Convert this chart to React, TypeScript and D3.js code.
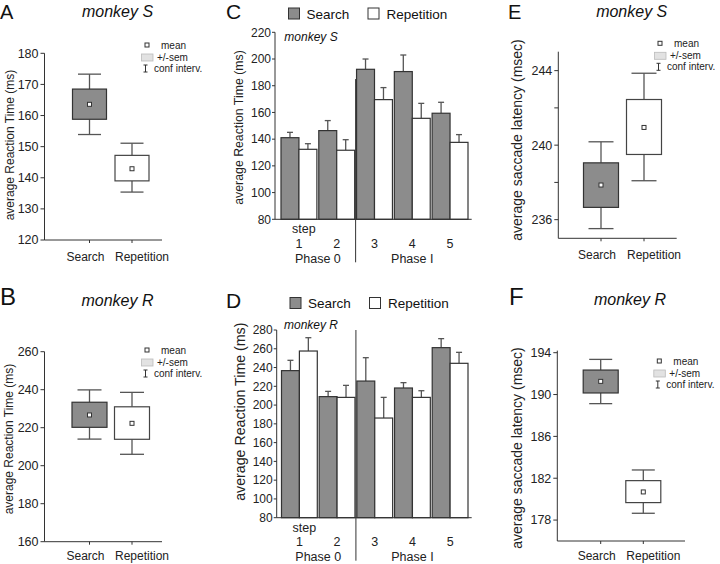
import React from 'react';
import * as d3 from 'd3';

// ---------- shared ----------
const categories = ['Search', 'Repetition'];
const steps = ['1', '2', '3', '4', '5'];
const phases = ['Phase 0', 'Phase I'];
const phaseSteps = [['1', '2'], ['3', '4', '5']];

// ---------- Panel A: monkey S, reaction time ----------
const rtS_mean = [163.6, 142.9];
const rtS_semLo = [158.8, 139.0];
const rtS_semHi = [168.5, 147.2];
const rtS_ciLo = [153.9, 135.4];
const rtS_ciHi = [173.3, 151.1];
const rtS_ticks = [120, 130, 140, 150, 160, 170, 180];

// ---------- Panel B: monkey R, reaction time ----------
const rtR_mean = [226.7, 222.3];
const rtR_semLo = [220.2, 213.9];
const rtR_semHi = [233.4, 231.0];
const rtR_ciLo = [214.0, 206.0];
const rtR_ciHi = [239.9, 238.6];
const rtR_ticks = [160, 180, 200, 220, 240, 260];

// ---------- Panel E: monkey S, saccade latency ----------
const latS_mean = [237.86, 240.95];
const latS_semLo = [236.66, 239.5];
const latS_semHi = [239.05, 242.45];
const latS_ciLo = [235.52, 238.09];
const latS_ciHi = [240.18, 243.86];
const latS_ticks = [236, 240, 244];
const latS_minor = [238, 242];

// ---------- Panel F: monkey R, saccade latency ----------
const latR_mean = [191.26, 180.69];
const latR_semLo = [190.15, 179.67];
const latR_semHi = [192.34, 181.77];
const latR_ciLo = [189.13, 178.65];
const latR_ciHi = [193.36, 182.79];
const latR_ticks = [178, 182, 186, 190, 194];

// ---------- Panel C: monkey S, per step ----------
const stepS_search = [141.1, 146.4, 192.3, 190.6, 159.4];
const stepS_searchErr = [4.0, 7.5, 7.7, 12.4, 8.2];
const stepS_rep = [132.4, 131.7, 169.6, 155.6, 137.6];
const stepS_repErr = [4.2, 7.9, 9.0, 11.2, 5.8];
const stepS_ticks = [80, 100, 120, 140, 160, 180, 200, 220];

// ---------- Panel D: monkey R, per step ----------
const stepR_search = [236.7, 209.0, 225.6, 218.2, 261.2];
const stepR_searchErr = [11.0, 5.6, 24.9, 5.7, 9.6];
const stepR_rep = [257.6, 208.2, 186.2, 208.2, 244.5];
const stepR_repErr = [14.2, 12.8, 22.0, 7.1, 11.7];
const stepR_ticks = [80, 100, 120, 140, 160, 180, 200, 220, 240, 260, 280];

const FONT = '"Liberation Sans", Arial, Helvetica, sans-serif';
const AXIS = '#333';
const SEARCH_FILL = '#8c8c8c';
const DARK = '#333';
const WHISK = '#555';

function Legend({ lx, ly }) {
  return (
    <g fontSize={10} fill="#222">
      <rect x={lx - 2} y={ly - 2} width={4} height={4} fill="#fff" stroke={DARK} strokeWidth={1} />
      <text x={lx + 14} y={ly + 3.5}>mean</text>
      <rect x={lx - 5.5} y={ly + 9} width={11.5} height={7} fill="#e2e2e2" stroke="#bbb" strokeWidth={0.8} />
      <text x={lx + 10} y={ly + 15.5}>+/-sem</text>
      <g stroke={DARK} strokeWidth={1}>
        <line x1={lx - 1.5} x2={lx - 1.5} y1={ly + 20} y2={ly + 27} />
        <line x1={lx - 3.5} x2={lx + 0.5} y1={ly + 20} y2={ly + 20} />
        <line x1={lx - 3.5} x2={lx + 0.5} y1={ly + 27} y2={ly + 27} />
      </g>
      <text x={lx + 7} y={ly + 27}>conf interv.</text>
    </g>
  );
}

function BoxPanel({ c }) {
  const y = d3.scaleLinear().domain(c.domain).range([c.yBottom, c.yTop]);
  const x = d3.scalePoint().domain(categories).range(c.catRange);
  return (
    <g fontFamily={FONT}>
      <text x={c.letterX} y={c.letterY} fontSize={c.letterSize} fill="#111">{c.letter}</text>
      <text x={c.titleX} y={c.titleY} fontSize={16} fontStyle="italic" textAnchor="middle" fill="#111">{c.title}</text>
      <text
        transform={`translate(${c.ylabX},${c.ylabY}) rotate(-90)`}
        textAnchor="middle" dy="0.35em" fontSize={c.ylabSize} fill="#222"
      >{c.ylabel}</text>
      {/* axes */}
      <line x1={c.axisX} x2={c.axisX} y1={c.axisTop} y2={c.yBottom} stroke={AXIS} strokeWidth={1} />
      <line x1={c.axisX} x2={c.xEnd} y1={c.yBottom} y2={c.yBottom} stroke={AXIS} strokeWidth={1} />
      {c.ticks.map((t) => (
        <g key={t}>
          <line x1={c.axisX - 4} x2={c.axisX} y1={y(t)} y2={y(t)} stroke={AXIS} />
          <text x={c.axisX - 6} y={y(t)} dy="0.35em" textAnchor="end" fontSize={12.5} fill="#222">{t}</text>
        </g>
      ))}
      {(c.minor || []).map((t) => (
        <line key={'m' + t} x1={c.axisX - 4} x2={c.axisX} y1={y(t)} y2={y(t)} stroke={AXIS} />
      ))}
      {categories.map((cat) => (
        <line key={'xt' + cat} x1={x(cat)} x2={x(cat)} y1={c.yBottom} y2={c.yBottom + 3} stroke={AXIS} />
      ))}
      <text x={x('Search') + 15} y={c.yBottom + c.labOff} textAnchor="end" fontSize={12} fill="#222">Search</text>
      <text x={x('Repetition') - 17} y={c.yBottom + c.labOff} textAnchor="start" fontSize={12} fill="#222">Repetition</text>
      {categories.map((cat, i) => {
        const cx = x(cat);
        const hw = c.boxW / 2;
        const cw = c.capW / 2;
        return (
          <g key={cat}>
            <g stroke={WHISK} strokeWidth={1.3}>
              <line x1={cx} x2={cx} y1={y(c.semHi[i])} y2={y(c.ciHi[i])} />
              <line x1={cx - cw} x2={cx + cw} y1={y(c.ciHi[i])} y2={y(c.ciHi[i])} />
              <line x1={cx} x2={cx} y1={y(c.semLo[i])} y2={y(c.ciLo[i])} />
              <line x1={cx - cw} x2={cx + cw} y1={y(c.ciLo[i])} y2={y(c.ciLo[i])} />
            </g>
            <rect
              x={cx - hw} y={y(c.semHi[i])} width={c.boxW}
              height={y(c.semLo[i]) - y(c.semHi[i])}
              fill={i === 0 ? SEARCH_FILL : '#fff'} stroke={i === 0 ? DARK : '#444'} strokeWidth={1.2}
            />
            <rect x={cx - 2} y={y(c.mean[i]) - 2} width={4} height={4} fill="#fff" stroke={DARK} strokeWidth={1} />
          </g>
        );
      })}
      <Legend lx={c.legX} ly={c.legY} />
    </g>
  );
}

function BarPanel({ c }) {
  const y = d3.scaleLinear().domain(c.domain).range([c.yBottom, c.yTop]);
  const x0 = d3.scaleBand().domain(steps).range(c.barRange).paddingInner(0.05);
  const x1 = d3.scaleBand().domain(categories).range([0, x0.bandwidth()]);
  const series = [
    { vals: c.search, errs: c.searchErr, fill: SEARCH_FILL },
    { vals: c.rep, errs: c.repErr, fill: '#fff' },
  ];
  const center = (s) => x0(s) + x0.bandwidth() / 2;
  const divX = (x0('2') + x0.bandwidth() + x0('3')) / 2;
  const ab = c.yBottom;
  return (
    <g fontFamily={FONT}>
      <text x={c.letterX} y={c.letterY} fontSize={c.letterSize} fill="#111">{c.letter}</text>
      {/* legend */}
      <rect x={c.legX} y={c.legY} width={11} height={11} fill={SEARCH_FILL} stroke={DARK} strokeWidth={1} />
      <text x={c.legX + 18} y={c.legY + 10.5} fontSize={13.5} fill="#111">Search</text>
      <rect x={c.legX + 79.5} y={c.legY} width={11} height={11} fill="#fff" stroke={DARK} strokeWidth={1} />
      <text x={c.legX + 98} y={c.legY + 10.5} fontSize={13.5} fill="#111">Repetition</text>
      <text x={c.titleX} y={c.titleY} fontSize={12} fontStyle="italic" fill="#111">{c.title}</text>
      <text
        transform={`translate(${c.ylabX},${c.ylabY}) rotate(-90)`}
        textAnchor="middle" dy="0.35em" fontSize={c.ylabSize} fill="#222"
      >average Reaction Time (ms)</text>
      {/* divider */}
      <line x1={divX} x2={divX} y1={y(c.divTop)} y2={ab + 43} stroke={AXIS} strokeWidth={1} />
      {/* bars */}
      {series.map((s, si) =>
        steps.map((st, i) => {
          const bx = x0(st) + x1(categories[si]);
          const bw = x1.bandwidth();
          const cx = bx + bw / 2;
          return (
            <g key={si + '-' + st}>
              <line x1={cx} x2={cx} y1={y(s.vals[i])} y2={y(s.vals[i] + s.errs[i])} stroke={WHISK} strokeWidth={1.3} />
              <line x1={cx - 3} x2={cx + 3} y1={y(s.vals[i] + s.errs[i])} y2={y(s.vals[i] + s.errs[i])} stroke={WHISK} strokeWidth={1.3} />
              <rect x={bx} y={y(s.vals[i])} width={bw} height={ab - y(s.vals[i])} fill={s.fill} stroke={DARK} strokeWidth={1.2} />
            </g>
          );
        })
      )}
      {/* axes */}
      <line x1={c.axisX} x2={c.axisX} y1={c.yTop} y2={ab} stroke={AXIS} strokeWidth={1} />
      <line x1={c.axisX} x2={c.xEnd} y1={ab} y2={ab} stroke={AXIS} strokeWidth={1} />
      {c.ticks.map((t) => (
        <g key={t}>
          <line x1={c.axisX - 3} x2={c.axisX} y1={y(t)} y2={y(t)} stroke={AXIS} />
          <text x={c.axisX - 4} y={y(t)} dy="0.35em" textAnchor="end" fontSize={12} fill="#222">{t}</text>
        </g>
      ))}
      <text x={center('1') + 5} y={ab + 14} textAnchor="middle" fontSize={12.5} fill="#222">step</text>
      {steps.map((st) => (
        <text key={'l' + st} x={center(st)} y={ab + 28.5} textAnchor="middle" fontSize={12.5} fill="#222">{st}</text>
      ))}
      {phases.map((p, i) => (
        <text key={p} x={d3.mean(phaseSteps[i], center)} y={ab + 43.5} textAnchor="middle" fontSize={12.5} fill="#222">{p}</text>
      ))}
    </g>
  );
}

const panelA = {
  letter: 'A', letterX: 0, letterY: 19, letterSize: 20,
  title: 'monkey S', titleX: 117.5, titleY: 17,
  ylabel: 'average Reaction Time (ms)', ylabX: 10, ylabY: 145, ylabSize: 12,
  domain: [120, 180], ticks: rtS_ticks, yTop: 53.3, yBottom: 240, axisTop: 53.3,
  axisX: 44.5, xEnd: 162, catRange: [89.5, 132], boxW: 34, capW: 23, labOff: 21,
  mean: rtS_mean, semLo: rtS_semLo, semHi: rtS_semHi, ciLo: rtS_ciLo, ciHi: rtS_ciHi,
  legX: 147, legY: 45,
};
const panelB = {
  letter: 'B', letterX: 0, letterY: 305, letterSize: 24,
  title: 'monkey R', titleX: 117.5, titleY: 306,
  ylabel: 'average Reaction Time (ms)', ylabX: 9, ylabY: 439, ylabSize: 12,
  domain: [160, 260], ticks: rtR_ticks, yTop: 351.7, yBottom: 541.7, axisTop: 351.7,
  axisX: 44.5, xEnd: 162, catRange: [89.5, 132], boxW: 35, capW: 24, labOff: 18.3,
  mean: rtR_mean, semLo: rtR_semLo, semHi: rtR_semHi, ciLo: rtR_ciLo, ciHi: rtR_ciHi,
  legX: 147, legY: 350,
};
const panelE = {
  letter: 'E', letterX: 508, letterY: 19, letterSize: 20,
  title: 'monkey S', titleX: 631.7, titleY: 17,
  ylabel: 'average saccade latency (msec)', ylabX: 517, ylabY: 140, ylabSize: 14,
  domain: [235, 245], ticks: latS_ticks, minor: latS_minor, yTop: 52, yBottom: 238.3, axisTop: 51.7,
  axisX: 558.3, xEnd: 676.7, catRange: [601, 644], boxW: 35, capW: 25, labOff: 21,
  mean: latS_mean, semLo: latS_semLo, semHi: latS_semHi, ciLo: latS_ciLo, ciHi: latS_ciHi,
  legX: 660, legY: 43.3,
};
const panelF = {
  letter: 'F', letterX: 509, letterY: 305, letterSize: 24,
  title: 'monkey R', titleX: 630, titleY: 305,
  ylabel: 'average saccade latency (msec)', ylabX: 517, ylabY: 448, ylabSize: 14,
  domain: [176, 194.2], ticks: latR_ticks, yTop: 350.6, yBottom: 541, axisTop: 350.6,
  axisX: 557.3, xEnd: 685, catRange: [600.7, 643.3], boxW: 35, capW: 23, labOff: 18.8,
  mean: latR_mean, semLo: latR_semLo, semHi: latR_semHi, ciLo: latR_ciLo, ciHi: latR_ciHi,
  legX: 659.3, legY: 361,
};
const panelC = {
  letter: 'C', letterX: 226, letterY: 19, letterSize: 21,
  legX: 288.5, legY: 8,
  title: 'monkey S', titleX: 284.3, titleY: 41,
  ylabX: 238.5, ylabY: 127.5, ylabSize: 12.3,
  domain: [80, 220], ticks: stepS_ticks, yTop: 32.3, yBottom: 219.3,
  axisX: 275, xEnd: 471.7, barRange: [281, 468], divTop: 185,
  search: stepS_search, searchErr: stepS_searchErr, rep: stepS_rep, repErr: stepS_repErr,
};
const panelD = {
  letter: 'D', letterX: 226, letterY: 308, letterSize: 21,
  legX: 290, legY: 297.5,
  title: 'monkey R', titleX: 284, titleY: 329,
  ylabX: 240, ylabY: 411.7, ylabSize: 14.2,
  domain: [80, 280], ticks: stepR_ticks, yTop: 330, yBottom: 517.7,
  axisX: 276.7, xEnd: 471.7, barRange: [281.5, 468], divTop: 280,
  search: stepR_search, searchErr: stepR_searchErr, rep: stepR_rep, repErr: stepR_repErr,
};

export default function App() {
  return (
    <svg
      width={720} height={564} viewBox="0 0 720 564"
      style={{ position: 'absolute', left: 0, top: 0, display: 'block', background: '#fff' }}
    >
      <rect width={720} height={564} fill="#fff" />
      <BoxPanel c={panelA} />
      <BoxPanel c={panelB} />
      <BarPanel c={panelC} />
      <BarPanel c={panelD} />
      <BoxPanel c={panelE} />
      <BoxPanel c={panelF} />
    </svg>
  );
}
